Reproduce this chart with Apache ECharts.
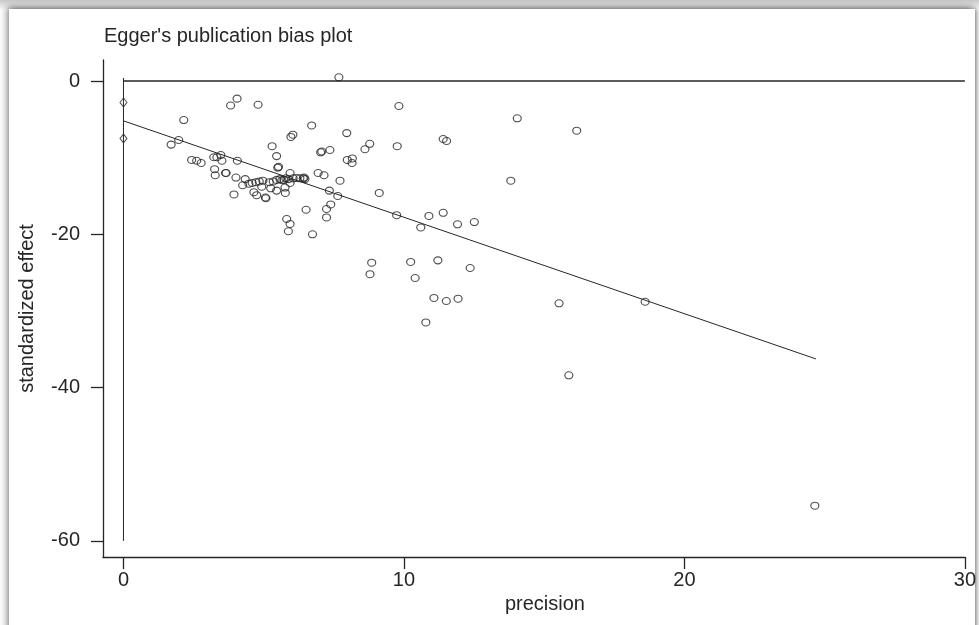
<!DOCTYPE html>
<html>
<head>
<meta charset="utf-8">
<script src="https://cdn.jsdelivr.net/npm/echarts@6/dist/echarts.min.js"></script>
<style>
  html, body {
    margin: 0;
    padding: 0;
    width: 979px;
    height: 625px;
    overflow: hidden;
    background: #fff;
  }
  .frame {
    position: absolute;
    left: 0;
    top: 0;
    width: 979px;
    height: 625px;
    background: linear-gradient(#c8c8c8, #fff 10px);
  }
  .panel {
    position: absolute;
    left: 9px;
    top: 9px;
    width: 966px;
    height: 640px;
    background: #fff;
    box-shadow: -2px -2px 7px rgba(0, 0, 0, 0.45), 2px 0 4px rgba(0, 0, 0, 0.35);
  }
  #chart {
    position: absolute;
    left: 0;
    top: 0;
    width: 979px;
    height: 625px;
  }
</style>
</head>
<body>
<div class="frame"></div>
<div class="panel"></div>
<div id="chart"></div>
<script>
// study points: precision (1/se) and standardized effect (effect/se)
const precision = [
  1.70, 1.97, 2.15, 2.43, 2.61, 2.77, 3.22, 3.33, 3.47, 3.51,
  3.25, 3.27, 3.64, 3.66, 3.82, 4.05, 4.80, 4.06, 3.94, 4.01,
  4.34, 4.25, 4.47, 4.59, 4.72, 4.84, 4.97, 4.65, 4.75, 5.06,
  5.08, 4.93, 5.20, 5.25, 5.34, 5.46, 5.58, 5.46, 5.72, 5.79,
  5.94, 5.76, 5.77, 5.94, 6.05, 6.17, 6.29, 6.41, 6.47, 6.44,
  5.88, 5.30, 5.46, 5.50, 5.53, 5.97, 6.04, 6.71, 7.68, 7.96,
  7.03, 7.07, 7.36, 7.98, 8.16, 8.15, 8.61, 8.78, 9.82, 9.76,
  6.94, 7.15, 7.72, 7.34, 7.64, 9.12, 6.51, 7.39, 7.24, 7.24,
  5.82, 5.94, 5.88, 6.74, 9.74, 10.89, 11.40, 10.60, 11.91, 12.51,
  11.40, 11.52, 13.81, 14.04, 16.16, 8.85, 8.79, 10.24, 10.40, 11.21,
  12.36, 11.07, 11.51, 11.93, 10.78, 15.53, 18.60, 15.88, 24.65, 5.65
]
const effect = [
  -8.3, -7.7, -5.1, -10.3, -10.4, -10.7, -9.95, -9.95, -9.65, -10.4,
  -11.5, -12.3, -12.0, -12.0, -3.2, -2.3, -3.1, -10.4, -14.8, -12.6,
  -12.8, -13.6, -13.4, -13.3, -13.2, -13.1, -13.0, -14.5, -14.9, -15.2,
  -15.3, -13.8, -13.2, -14.0, -13.1, -12.9, -12.8, -14.3, -12.9, -12.7,
  -12.0, -13.9, -14.6, -13.3, -12.7, -12.65, -12.7, -12.7, -12.8, -12.6,
  -12.8, -8.5, -9.8, -11.3, -11.2, -7.3, -7.0, -5.8, 0.48, -6.8,
  -9.3, -9.2, -9.0, -10.3, -10.1, -10.7, -8.9, -8.2, -3.26, -8.5,
  -12.0, -12.3, -13.0, -14.3, -15.0, -14.6, -16.8, -16.1, -16.7, -17.8,
  -18.0, -18.65, -19.6, -20.0, -17.5, -17.6, -17.2, -19.1, -18.7, -18.4,
  -7.57, -7.83, -13.0, -4.87, -6.48, -23.7, -25.2, -23.6, -25.7, -23.4,
  -24.4, -28.3, -28.7, -28.4, -31.5, -29.0, -28.8, -38.4, -55.4, -12.95
]
// intercept markers on the y axis
const interceptX = [0, 0]
const interceptY = [-2.8, -7.5]
// fitted Egger regression line
const fitX = [0, 24.69]
const fitY = [-5.2, -36.26]
// reference lines
const zeroLineX = [0, 30]
const zeroLineY = [0, 0]
const vertLineX = [0, 0]
const vertLineY = [0.4, -60]
// axis ticks
const xTicks = [0, 10, 20, 30]
const yTicks = [0, -20, -40, -60]

const pair = (xs, ys) => xs.map((v, i) => [v, ys[i]])

const font = "'Liberation Sans', Arial, sans-serif"
const ink = '#262626'

const chart = echarts.init(document.getElementById('chart'), null, { renderer: 'canvas' })

const option = {
  animation: false,
  backgroundColor: 'transparent',
  title: {
    text: "Egger's publication bias plot",
    left: 99,
    top: 21,
    textStyle: {
      fontFamily: font,
      fontSize: 20,
      fontWeight: 'normal',
      color: ink,
    },
  },
  grid: {
    left: 103,
    top: 60,
    width: 862,
    height: 497,
  },
  xAxis: {
    type: 'value',
    min: -0.73,
    max: 30,
    name: 'precision',
    nameLocation: 'middle',
    nameGap: 30,
    nameTextStyle: {
      fontFamily: font,
      fontSize: 20,
      color: ink,
      padding: [0, 0, 0, 22],
    },
    axisLine: { show: true, onZero: false, lineStyle: { color: ink, width: 1.3 } },
    axisTick: { show: true, length: 12, customValues: xTicks, lineStyle: { color: ink, width: 1.3 } },
    axisLabel: {
      customValues: xTicks,
      margin: 13,
      fontFamily: font,
      fontSize: 20,
      color: ink,
    },
    splitLine: { show: false },
  },
  yAxis: {
    type: 'value',
    min: -62.1,
    max: 2.74,
    name: 'standardized effect',
    nameLocation: 'middle',
    nameGap: 66,
    nameTextStyle: {
      fontFamily: font,
      fontSize: 20,
      color: ink,
    },
    axisLine: { show: true, onZero: false, lineStyle: { color: ink, width: 1.3 } },
    axisTick: { show: true, length: 12, customValues: yTicks, lineStyle: { color: ink, width: 1.3 } },
    axisLabel: {
      customValues: yTicks,
      margin: 23,
      fontFamily: font,
      fontSize: 20,
      color: ink,
    },
    splitLine: { show: false },
  },
  series: [
    {
      name: 'zero',
      type: 'line',
      data: pair(zeroLineX, zeroLineY),
      symbol: 'none',
      lineStyle: { color: ink, width: 1.3 },
      silent: true,
    },
    {
      name: 'vertical',
      type: 'line',
      data: pair(vertLineX, vertLineY),
      symbol: 'none',
      lineStyle: { color: ink, width: 1 },
      silent: true,
    },
    {
      name: 'fit',
      type: 'line',
      data: pair(fitX, fitY),
      symbol: 'none',
      lineStyle: { color: ink, width: 1 },
      silent: true,
    },
    {
      name: 'studies',
      type: 'scatter',
      data: pair(precision, effect),
      symbol: 'circle',
      symbolSize: [8, 7],
      itemStyle: {
        color: 'rgba(255,255,255,0)',
        borderColor: ink,
        borderWidth: 1.1,
      },
    },
    {
      name: 'intercept',
      type: 'scatter',
      data: pair(interceptX, interceptY),
      symbol: 'diamond',
      symbolSize: [7, 9],
      itemStyle: {
        color: 'rgba(255,255,255,0)',
        borderColor: ink,
        borderWidth: 1,
      },
    },
  ],
}
chart.setOption(option)
</script>
</body>
</html>
